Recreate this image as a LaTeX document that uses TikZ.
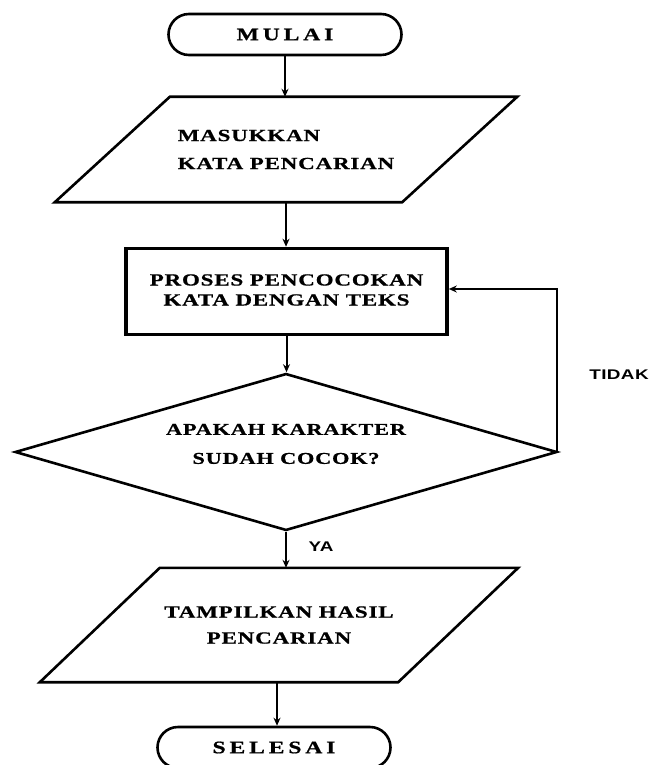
\documentclass[tikz,border=0pt]{standalone}
\usepackage{fontspec}
\setmainfont{Liberation Serif}
\newfontfamily\boxfont{Liberation Serif}[FakeStretch=1.35, LetterSpace=5, FakeBold=0.8]
\newfontfamily\endfont{Liberation Serif}[FakeStretch=1.35, LetterSpace=22, FakeBold=0.8]
\newfontfamily\tagfont{Liberation Sans}[FakeStretch=1.35, LetterSpace=3]
\usetikzlibrary{shapes.geometric, shapes.misc, arrows.meta, calc}

\begin{document}
\begin{tikzpicture}[x=1pt, y=-1pt,
  outline/.style={draw=black, line width=2.6pt, line join=miter},
  terminal/.style={rounded rectangle, outline, minimum width=233pt, minimum height=41pt,
    inner sep=0pt, font=\endfont\bfseries\fontsize{17.5}{20}\selectfont},
  iobox/.style={inner sep=0pt, align=left, font=\boxfont\bfseries\fontsize{17}{20}\selectfont},
  process/.style={rectangle, draw=black, line width=3.6pt, minimum width=321pt, minimum height=86pt,
    inner sep=0pt, align=center, font=\boxfont\bfseries\fontsize{17}{20}\selectfont},
  decision/.style={diamond, outline, minimum width=542pt, minimum height=157pt, inner sep=0pt},
  body/.style={align=center, inner sep=0pt, font=\boxfont\bfseries\fontsize{16.5}{20}\selectfont},
  tag/.style={inner sep=0pt, font=\tagfont\bfseries\fontsize{14}{16}\selectfont},
  flow/.style={draw=black, line width=2pt, -{Stealth[length=8pt, width=7pt]}}
]
\useasboundingbox (0,0) rectangle (651,765);
\fill[white] (0,0) rectangle (651,765);

% start / end
\node[terminal] (start) at (285,34.5) {MULAI};
\node[terminal] (finish) at (274,747.5) {SELESAI};

% input parallelogram
\node[iobox, minimum width=347pt, minimum height=105pt] (input) at (286,149.5)
  {MASUKKAN\\[8pt]KATA PENCARIAN};
\draw[outline] ($(input.north west)+(57.5,0)$) -- ($(input.north east)+(57.5,0)$)
  -- ($(input.south east)+(-57.5,0)$) -- ($(input.south west)+(-57.5,0)$) -- cycle;

% matching process
\node[process] (match) at (286.5,291.5) {\raisebox{4pt}{\begin{tabular}{@{}c@{}}PROSES PENCOCOKAN\\KATA DENGAN TEKS\end{tabular}}};

% decision
\node[decision] (check) at (286,452) {};
\node[body] (checktext) at (286,444) {APAKAH KARAKTER\\[9pt]SUDAH COCOK?};

% output parallelogram
\node[iobox, align=center, minimum width=358pt, minimum height=114pt] (output) at (279,625)
  {TAMPILKAN HASIL\\[6pt]PENCARIAN};
\draw[outline] ($(output.north west)+(60,0)$) -- ($(output.north east)+(60,0)$)
  -- ($(output.south east)+(-60,0)$) -- ($(output.south west)+(-60,0)$) -- cycle;

% connectors
\draw[flow] (start.south) -- (start.south |- input.north);
\draw[flow] (input.south) -- (input.south |- match.north);
\draw[flow] (match.south) -- (match.south |- check.north);
\draw[flow] (check.south) -- (check.south |- output.north);
\draw[flow] ([xshift=-2pt]output.south) -- ([xshift=-2pt]output.south |- finish.north);
\coordinate (loop) at (557,289);
\draw[flow] (check.east) -| (loop) -- (match.east |- loop);

% branch labels
\node[tag] (no) at (619,375) {TIDAK};
\node[tag] (yes) at (321,547) {YA};
\end{tikzpicture}
\end{document}
